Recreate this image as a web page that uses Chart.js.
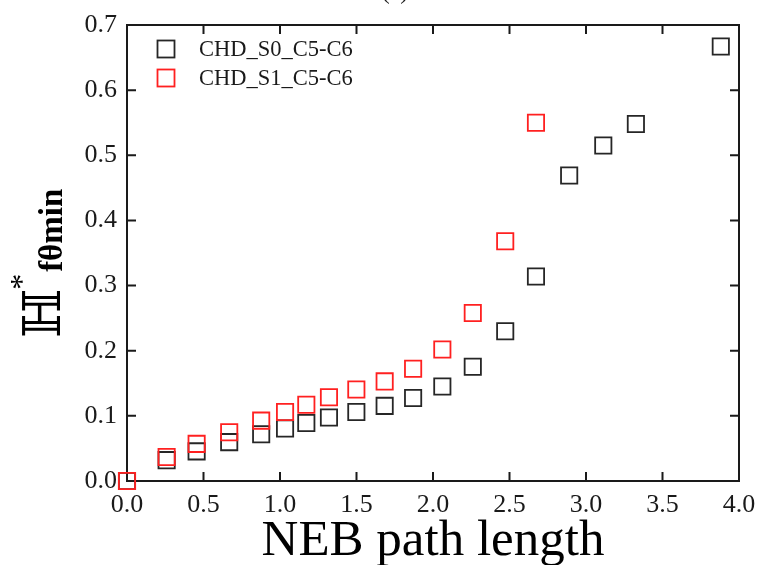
<!DOCTYPE html>
<html><head><meta charset="utf-8">
<script src="https://cdn.jsdelivr.net/npm/chart.js@4"></script>
<style>html,body{margin:0;padding:0;background:#fff;overflow:hidden;} #wrap{width:758px;height:565px;position:relative;}</style>
</head><body><div id="wrap"><canvas id="c" width="758" height="565"></canvas></div>
<script>
// ---- data ----
const pathLength = [0, 0.259, 0.455, 0.668, 0.877, 1.033, 1.172, 1.320, 1.499, 1.684, 1.870, 2.061, 2.260, 2.472, 2.673, 2.890, 3.113, 3.326, 3.881];
const s0Values = [0, 0.032, 0.0455, 0.0597, 0.0717, 0.0807, 0.089, 0.0975, 0.106, 0.1153, 0.1274, 0.145, 0.1753, 0.230, 0.314, 0.469, 0.515, 0.548, 0.667];
const s1Values = [0, 0.0367, 0.057, 0.0748, 0.0927, 0.106, 0.117, 0.1286, 0.1404, 0.1529, 0.1723, 0.2018, 0.258, 0.368, 0.550];
const seriesLabels = ['CHD_S0_C5-C6', 'CHD_S1_C5-C6'];
const seriesColors = ['#262626', '#ff2020'];
const xAxisTitle = 'NEB path length';
const yTitleMain = '\u210D';
const yTitleSup = '*';
const yTitleSub = 'f\u03B8min';
const panelTitle = '(a)';

const toPoints = (ys) => ys.map((y, i) => ({x: pathLength[i], y: y}));
const SERIF = '"Liberation Serif", "Times New Roman", serif';
const INK = '#1a1a1a';

const framePlugin = {
  id: 'frame',
  beforeDatasetsDraw(chart) {
    const {ctx, chartArea: a, scales} = chart;
    ctx.save();
    ctx.strokeStyle = INK;
    ctx.lineWidth = 2;
    ctx.strokeRect(a.left, a.top, a.right - a.left, a.bottom - a.top);
    const L = 9;
    ctx.beginPath();
    scales.x.ticks.forEach((t, i) => {
      const px = scales.x.getPixelForTick(i);
      ctx.moveTo(px, a.bottom); ctx.lineTo(px, a.bottom - L);
      ctx.moveTo(px, a.top); ctx.lineTo(px, a.top + L);
    });
    scales.y.ticks.forEach((t, i) => {
      const py = scales.y.getPixelForTick(i);
      ctx.moveTo(a.left, py); ctx.lineTo(a.left + L, py);
      ctx.moveTo(a.right, py); ctx.lineTo(a.right - L, py);
    });
    ctx.stroke();
    ctx.restore();
  },
  afterDraw(chart) {
    const {ctx, chartArea: a} = chart;
    ctx.save();
    // panel title (cut off at top)
    ctx.fillStyle = INK;
    ctx.font = '24px ' + SERIF;
    ctx.textAlign = 'center';
    ctx.textBaseline = 'alphabetic';
    ctx.fillText(panelTitle, 395, -1);
    // legend
    const lx = a.left + 39, ly0 = a.top + 24, dy = 29, s = 17;
    chart.data.datasets.forEach((ds, i) => {
      const cy = ly0 + i * dy;
      ctx.strokeStyle = ds.borderColor;
      ctx.lineWidth = 1.8;
      ctx.strokeRect(lx - s / 2, cy - s / 2, s, s);
      ctx.fillStyle = INK;
      ctx.font = '22.5px ' + SERIF;
      ctx.textAlign = 'left';
      ctx.textBaseline = 'middle';
      ctx.fillText(ds.label, a.left + 72, cy + 1);
    });
    // y axis title
    ctx.translate(60, 338);
    ctx.rotate(-Math.PI / 2);
    ctx.fillStyle = '#000';
    ctx.textAlign = 'left';
    ctx.textBaseline = 'alphabetic';
    ctx.font = '52px "DejaVu Serif", "DejaVu Sans", serif';
    ctx.fillText(yTitleMain, 0, 0);
    const w = ctx.measureText(yTitleMain).width;
    ctx.font = '32px ' + SERIF;
    ctx.fillText(yTitleSup, w - 1, -28);
    ctx.font = 'bold 33px ' + SERIF;
    ctx.fillText(yTitleSub, w + 17, 2);
    ctx.restore();
  }
};

new Chart(document.getElementById('c'), {
  type: 'scatter',
  data: {
    datasets: [
      {label: seriesLabels[0], data: toPoints(s0Values), borderColor: seriesColors[0], backgroundColor: 'rgba(0,0,0,0)', order: 1},
      {label: seriesLabels[1], data: toPoints(s1Values), borderColor: seriesColors[1], backgroundColor: 'rgba(0,0,0,0)', order: 0}
    ]
  },
  options: {
    responsive: false,
    animation: false,
    clip: false,
    layout: {padding: {top: 25, right: 19, left: 0, bottom: 0}},
    elements: {point: {pointStyle: 'rect', radius: 11.5, borderWidth: 1.8, hoverRadius: 11.5}},
    plugins: {legend: {display: false}, tooltip: {enabled: false}, title: {display: false}},
    scales: {
      x: {
        type: 'linear', min: 0, max: 4,
        grid: {display: false, drawTicks: false},
        border: {display: false},
        ticks: {stepSize: 0.5, callback: v => v.toFixed(1), font: {family: SERIF, size: 26}, color: INK, padding: 9, maxRotation: 0},
        title: {display: true, text: xAxisTitle, font: {family: SERIF, size: 51, lineHeight: 1}, color: '#000', padding: {top: 0, bottom: -2}},
        afterFit: s => { s.height = 84; s.paddingRight = 0; s.paddingLeft = 0; }
      },
      y: {
        type: 'linear', min: 0, max: 0.7,
        grid: {display: false, drawTicks: false},
        border: {display: false},
        ticks: {stepSize: 0.1, callback: v => v.toFixed(1), font: {family: SERIF, size: 26}, color: INK, padding: 10},
        afterFit: s => { s.width = 127; s.paddingTop = 0; s.paddingBottom = 0; }
      }
    }
  },
  plugins: [framePlugin]
});
</script>
</body></html>
